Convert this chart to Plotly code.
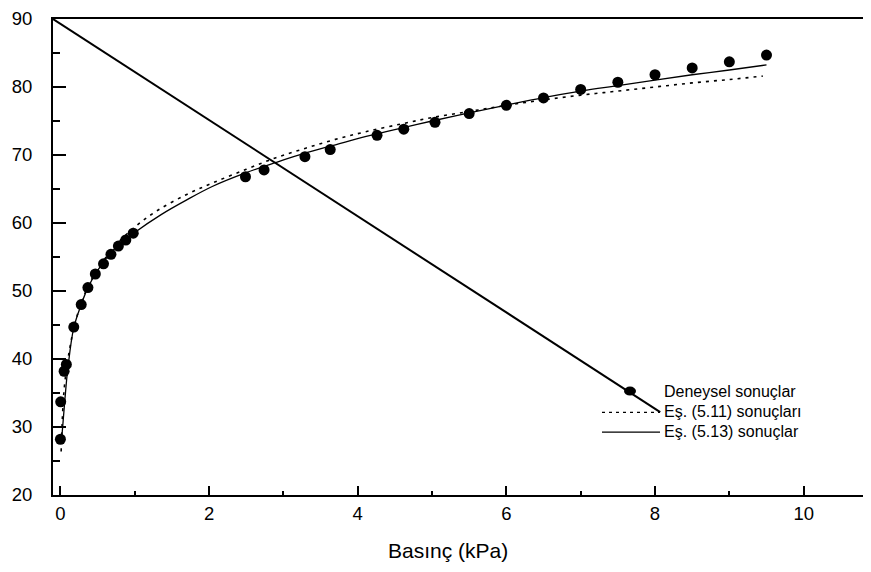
import plotly.graph_objects as go

# Experimental data (Deneysel sonuçlar)
exp_x = [0.0, 0.004, 0.05, 0.08, 0.18, 0.28, 0.37, 0.47, 0.58, 0.68, 0.78, 0.88, 0.98,
         2.49, 2.74, 3.29, 3.63, 4.26, 4.62, 5.04, 5.5, 6.0, 6.5, 7.0, 7.5, 8.0, 8.5, 9.0, 9.5]
exp_y = [28.2, 33.7, 38.2, 39.2, 44.7, 48.0, 50.5, 52.5, 54.0, 55.4, 56.6, 57.5, 58.5,
         66.8, 67.8, 69.75, 70.8, 72.9, 73.8, 74.8, 76.1, 77.3, 78.4, 79.65, 80.7, 81.8, 82.8, 83.7, 84.7]

# Eş. (5.11) sonuçları (dotted curve)
eq511_x = [0.01, 0.05, 0.12, 0.2, 0.3, 0.4, 0.55, 0.75, 1.0, 1.3, 1.7, 2.05, 2.5, 2.9, 3.3, 3.7,
           4.1, 4.6, 5.0, 5.5, 6.0, 6.5, 7.0, 7.5, 8.0, 8.5, 9.0, 9.45]
eq511_y = [26.4, 35.5, 41.2, 45.4, 48.8, 51.3, 54.0, 56.8, 59.4, 61.8, 64.2, 65.9, 67.9, 69.6, 71.0, 72.3,
           73.4, 74.6, 75.5, 76.4, 77.3, 78.1, 78.8, 79.4, 80.0, 80.6, 81.1, 81.6]

# Eş. (5.13) sonuçlar (solid curve)
eq513_x = [0.02, 0.06, 0.1, 0.18, 0.28, 0.37, 0.5, 0.7, 1.0, 1.35, 1.7, 2.05, 2.5, 2.9, 3.3, 3.7,
           4.1, 4.6, 5.0, 5.5, 6.0, 6.5, 7.0, 7.5, 8.0, 8.5, 9.0, 9.5]
eq513_y = [28.6, 34.0, 38.6, 44.6, 48.0, 50.5, 53.0, 55.9, 58.6, 61.2, 63.4, 65.4, 67.4, 68.9, 70.3, 71.5,
           72.7, 74.0, 75.0, 76.2, 77.35, 78.45, 79.4, 80.2, 81.0, 81.8, 82.5, 83.25]

# Straight diagonal line seen in the figure
diag_x = [-0.1, 8.07]
diag_y = [90.0, 32.2]

legend_labels = ["Deneysel sonuçlar", "Eş. (5.11) sonuçları", "Eş. (5.13) sonuçlar"]
x_title = "Basınç (kPa)"

fig = go.Figure()

fig.add_trace(go.Scatter(x=diag_x, y=diag_y, mode="lines",
                         line=dict(color="black", width=2), showlegend=False, hoverinfo="skip"))
fig.add_trace(go.Scatter(x=eq511_x, y=eq511_y, mode="lines", name=legend_labels[1],
                         line=dict(color="black", width=1.6, dash="3px,5px", shape="spline"),
                         showlegend=False))
fig.add_trace(go.Scatter(x=eq513_x, y=eq513_y, mode="lines", name=legend_labels[2],
                         line=dict(color="black", width=1.3, shape="spline"), showlegend=False))
fig.add_trace(go.Scatter(x=exp_x, y=exp_y, mode="markers", name=legend_labels[0],
                         marker=dict(color="black", size=11, symbol="circle"), showlegend=False))

# page has an 8px body margin; figure sized so it ends at the window edge
OFF = 8
W, H = 871 - OFF, 572 - OFF
L, R, T, B = 53 - OFF, 0, 14 - OFF, 77
pw, ph = W - L - R, H - T - B

def px(xp):
    return (xp - OFF - L) / pw

def py(yp):
    return (H - B - (yp - OFF)) / ph

# manual legend
leg_font = dict(family="Liberation Sans, Arial", size=16, color="black")
fig.add_shape(type="circle", xref="paper", yref="paper", xsizemode="pixel", ysizemode="pixel",
              xanchor=px(630), yanchor=py(390), x0=-6, x1=6, y0=-4.5, y1=4.5,
              fillcolor="black", line=dict(color="black", width=0))
fig.add_shape(type="line", xref="paper", yref="paper", x0=px(602), x1=px(660), y0=py(411.5), y1=py(411.5),
              line=dict(color="black", width=1.3, dash="3px,4px"))
fig.add_shape(type="line", xref="paper", yref="paper", x0=px(602), x1=px(660), y0=py(431.5), y1=py(431.5),
              line=dict(color="black", width=1.3))
for lab, yy in zip(legend_labels, [390, 411, 431]):
    fig.add_annotation(text=lab, xref="paper", yref="paper", x=px(662), y=py(yy),
                       xanchor="left", yanchor="middle", showarrow=False, font=leg_font)

fig.add_annotation(text=x_title, xref="paper", yref="paper", x=px(448), y=py(551),
                   xanchor="center", yanchor="middle", showarrow=False,
                   font=dict(family="Liberation Sans, Arial", size=21, color="black"))

tick_font = dict(family="Liberation Sans, Arial", size=18.5, color="black")

fig.update_layout(
    width=W, height=H,
    margin=dict(l=L, r=R, t=T, b=B),
    paper_bgcolor="white", plot_bgcolor="white",
    xaxis=dict(range=[-0.0996, 10.906], tickmode="linear", tick0=0, dtick=2,
               ticks="inside", ticklen=9, tickwidth=2, tickcolor="black",
               minor=dict(ticks="inside", ticklen=4, tickwidth=2, dtick=1, tickcolor="black"),
               showline=True, linewidth=2, linecolor="black", mirror=True,
               showgrid=False, zeroline=False, tickfont=tick_font, ticklabelstandoff=1,
               ticklabeloverflow="allow"),
    yaxis=dict(range=[20, 90], tickmode="linear", tick0=20, dtick=10,
               ticks="inside", ticklen=13, tickwidth=2, tickcolor="black",
               minor=dict(ticks="inside", ticklen=7, tickwidth=2, dtick=5, tickcolor="black"),
               showline=True, linewidth=2, linecolor="black",
               showgrid=False, zeroline=False, tickfont=tick_font, ticklabelstandoff=15,
               ticklabeloverflow="allow"),
)

fig.write_html("out.html")
